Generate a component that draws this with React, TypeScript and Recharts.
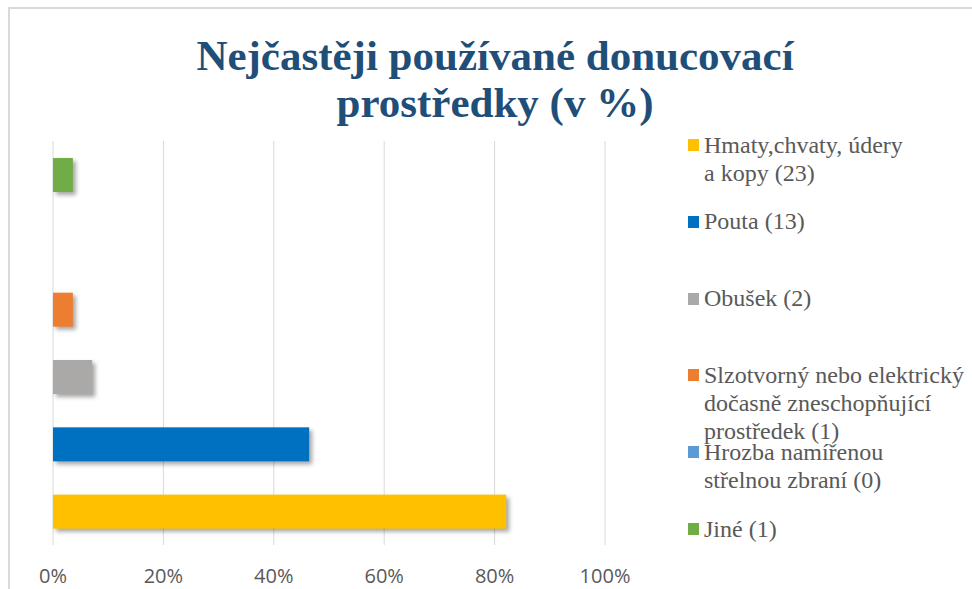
import React from "react";
import {
  BarChart,
  Bar,
  XAxis,
  YAxis,
  CartesianGrid,
  Cell,
} from "recharts";

// legend order = data order (first one is drawn at the bottom)
const categories = [
  "Hmaty,chvaty, údery\na kopy (23)",
  "Pouta (13)",
  "Obušek (2)",
  "Slzotvorný nebo elektrický\ndočasně zneschopňující\nprostředek (1)",
  "Hrozba namířenou\nstřelnou zbraní (0)",
  "Jiné (1)",
];
const percents = [82.1, 46.4, 7.1, 3.6, 0, 3.6];
const colors = ["#FFC000", "#0070C0", "#ABA8A8", "#ED7D31", "#5B9BD5", "#70AD47"];
const xTicks = [0, 20, 40, 60, 80, 100];

const data = categories.map((name, i) => ({ name, value: percents[i] }));

const SERIF = '"Liberation Serif", "Times New Roman", serif';

function ShadowBar(props: any) {
  const { x, y, width, height, fill } = props;
  if (!width || width <= 0) return null;
  return (
    <rect
      x={x}
      y={y}
      width={width}
      height={height}
      fill={fill}
      style={{ filter: "drop-shadow(3px 3px 2px rgba(0,0,0,0.35))" }}
    />
  );
}

function Legend() {
  return (
    <>
      {categories.map((c, i) => (
        <div
          key={c}
          style={{
            position: "absolute",
            left: 688,
            top: 130.5 + 76.8 * i,
            fontFamily: SERIF,
            fontSize: 24,
            lineHeight: "28px",
            color: "#595959",
            whiteSpace: "pre",
          }}
        >
          <span
            style={{
              position: "absolute",
              left: 0,
              top: 8.5,
              width: 11,
              height: 12,
              background: colors[i],
            }}
          />
          <div style={{ marginLeft: 16 }}>{c}</div>
        </div>
      ))}
    </>
  );
}

export default function App() {
  return (
    <div
      style={{
        position: "absolute",
        left: 0,
        top: 0,
        width: 972,
        height: 589,
        background: "#fff",
        overflow: "hidden",
      }}
    >
      {/* chart frame, only left and top edges are visible */}
      <div
        style={{
          position: "absolute",
          left: 8,
          top: 7,
          width: 980,
          height: 600,
          borderLeft: "2px solid #d9d9d9",
          borderTop: "2px solid #d9d9d9",
        }}
      />
      <div
        style={{
          position: "absolute",
          left: 95,
          top: 32,
          width: 800,
          textAlign: "center",
          fontFamily: SERIF,
          fontWeight: "bold",
          fontSize: 43,
          lineHeight: "47px",
          color: "#1F4E79",
        }}
      >
        <div>Nejčastěji používané donucovací</div>
        <div>prostředky (v %)</div>
      </div>
      <div style={{ position: "absolute", left: 0, top: 0 }}>
        <BarChart
          width={972}
          height={589}
          data={data}
          layout="vertical"
          margin={{ top: 141, right: 367, left: 53, bottom: 0 }}
        >
          <CartesianGrid horizontal={false} stroke="#d9d9d9" />
          <XAxis
            type="number"
            domain={[0, 100]}
            ticks={xTicks}
            tickFormatter={(v: number) => `${v}%`}
            axisLine={false}
            tickLine={false}
            tickMargin={18}
            height={44}
            tick={{ fill: "#595959", fontSize: 20, fontFamily: "Open Sans" }}
            interval={0}
          />
          <YAxis type="category" dataKey="name" hide reversed width={0} />
          <Bar
            dataKey="value"
            barSize={34}
            isAnimationActive={false}
            shape={ShadowBar}
          >
            {data.map((d, i) => (
              <Cell key={`cell-${i}`} fill={colors[i]} />
            ))}
          </Bar>
        </BarChart>
      </div>
      <Legend />
    </div>
  );
}
